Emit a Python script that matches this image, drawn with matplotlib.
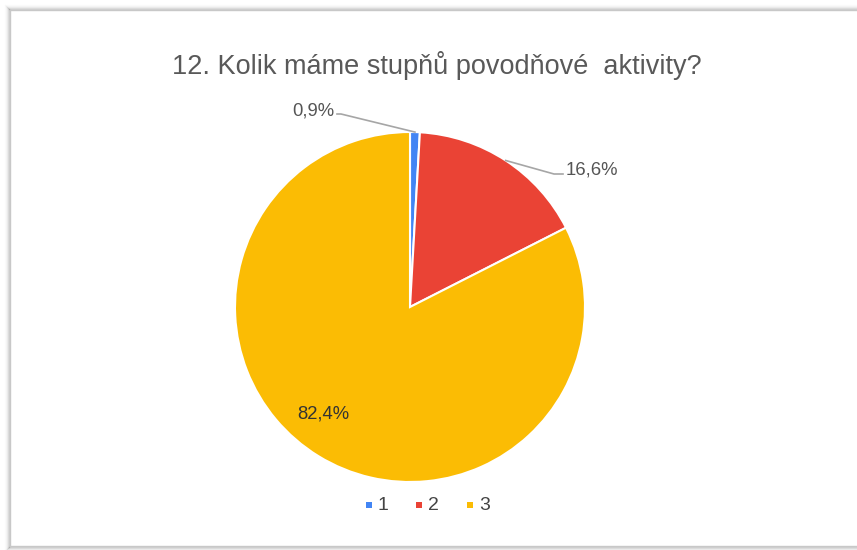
import matplotlib
matplotlib.use("Agg")
import matplotlib.pyplot as plt
from matplotlib.patches import Rectangle
import numpy as np

# Answer categories, their shares (percent) and slice colours
categories = ["1", "2", "3"]
shares = [0.9, 16.6, 82.4]
colors = ["#4285F4", "#EA4335", "#FBBC04"]
title = "12. Kolik máme stupňů povodňové  aktivity?"

W, H = 857, 550
plt.rcParams["font.family"] = ["Liberation Sans", "DejaVu Sans"]

fig = plt.figure(figsize=(W / 100, H / 100), dpi=100)
ax = fig.add_axes([0, 0, 1, 1])


def py(y):
    # pixel row (from top) -> data y
    return H - y


cx, cy, r = 410, py(307), 175
wedges, _ = ax.pie(shares, colors=colors, startangle=90, counterclock=False,
                   center=(cx, cy), radius=r, frame=True,
                   wedgeprops=dict(edgecolor="white", linewidth=1.5, zorder=2))
ax.set_xlim(0, W)
ax.set_ylim(0, H)
ax.set_aspect("equal")
ax.axis("off")

# panel border (left, top, bottom) with a soft outer shadow
left, top, bottom = 10, 10, 546
for i, a in enumerate([0.30, 0.18, 0.10, 0.05, 0.02]):
    c = (0.45, 0.45, 0.45, a)
    d = 1 + i
    ax.plot([left - d, left - d], [py(top - d), py(bottom + d)], color=c, lw=1.0, zorder=0)
    ax.plot([left - d, W], [py(top - d), py(top - d)], color=c, lw=1.0, zorder=0)
    ax.plot([left - d, W], [py(bottom + d), py(bottom + d)], color=c, lw=1.0, zorder=0)
ax.plot([left, left], [py(top), py(bottom)], color="#c8c8c8", lw=1.0, zorder=1)
ax.plot([left, W], [py(top), py(top)], color="#c8c8c8", lw=1.0, zorder=1)
ax.plot([left, W], [py(bottom), py(bottom)], color="#c8c8c8", lw=1.0, zorder=1)

ax.text(437, py(65), title, ha="center", va="center", fontsize=19.5, color="#595959", zorder=3)

# percentage labels
label_text = [f"{v:.1f}%".replace(".", ",") for v in shares]
ax.text(313, py(111), label_text[0], ha="center", va="center", fontsize=13.3, color="#555555", zorder=3)
ax.text(592, py(170), label_text[1], ha="center", va="center", fontsize=13.3, color="#555555", zorder=3)
ax.text(323, py(414), label_text[2], ha="center", va="center", fontsize=13.3, color="#333333", zorder=3)

# leader lines from the small slices to their labels
cum = np.cumsum([0] + shares)
tot = sum(shares)
mid = [90 - (cum[i] + shares[i] / 2) / tot * 360 for i in range(len(shares))]
e0 = (cx + r * np.cos(np.radians(mid[0])), cy + r * np.sin(np.radians(mid[0])))
e1 = (cx + r * np.cos(np.radians(mid[1])), cy + r * np.sin(np.radians(mid[1])))
ax.plot([337, 341, e0[0]], [py(114), py(114), e0[1]], color="#a6a6a6", lw=1.2, zorder=3)
ax.plot([e1[0], 554, 563], [e1[1], py(174), py(174)], color="#a6a6a6", lw=1.2, zorder=3)

# legend
for x, lab, c in zip([369, 419, 470], categories, colors):
    ax.add_patch(Rectangle((x - 3, py(505) - 3), 6, 6, facecolor=c, edgecolor="none", zorder=3))
    ax.text(x + 9, py(505), lab, ha="left", va="center", fontsize=14, color="#444444", zorder=3)

fig.savefig("out.png", dpi=100)
